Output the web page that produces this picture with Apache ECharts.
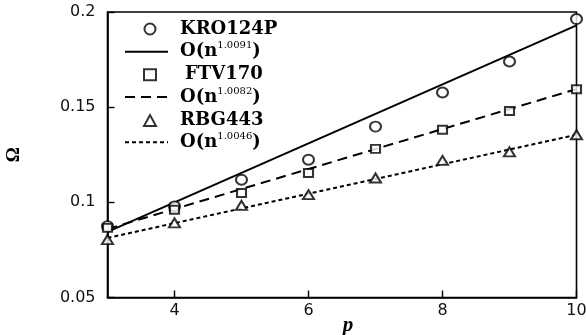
<!DOCTYPE html>
<html><head><meta charset="utf-8">
<script src="https://cdn.jsdelivr.net/npm/echarts@6/dist/echarts.min.js"></script>
<style>html,body{margin:0;padding:0;background:#fff}#c{width:586px;height:335px}</style>
</head><body><div id="c"></div>
<script>
const xValues = [3, 4, 5, 6, 7, 8, 9, 10];
const kro124p = [0.0875, 0.0979, 0.1119, 0.1224, 0.1398, 0.1577, 0.1740, 0.1963];
const ftv170  = [0.0866, 0.0961, 0.1049, 0.1154, 0.1281, 0.1381, 0.1480, 0.1594];
const rbg443  = [0.0804, 0.0892, 0.0984, 0.1040, 0.1128, 0.1220, 0.1265, 0.1355];
const fitX = [3, 10];
const fitKro = [0.0845, 0.1930];
const fitFtv = [0.0860, 0.1595];
const fitRbg = [0.0813, 0.1355];
const exps = ['1.0091', '1.0082', '1.0046'];
const xTicks = [4, 6, 8, 10];

const pairs = (xs, ys) => xs.map((x, i) => [x, ys[i]]);
const fitNames = exps.map(e => 'O(n^' + e + ')');

const chart = echarts.init(document.getElementById('c'), null, {renderer: 'canvas'});
const scatter = (name, data, symbol, size) => ({
  name, type: 'scatter', data, symbol, symbolSize: size, clip: false, symbolKeepAspect: true,
  itemStyle: {color: '#000', borderWidth: 1.6}, z: 3
});
const fit = (name, data, type) => ({
  name, type: 'line', data, symbol: 'none', showSymbol: false,
  itemStyle: {color: '#000'},
  lineStyle: {color: '#000', width: 2, type}, z: 2
});
const hidden = {color: 'rgba(0,0,0,0)', borderColor: 'rgba(0,0,0,0)', borderWidth: 0};
const rich = {
  t: {fontFamily: 'DejaVu Serif', fontSize: 18, fontWeight: 'bold', lineHeight: 22, color: '#000'},
  f: {fontFamily: 'DejaVu Serif', fontSize: 18, fontWeight: 'bold', lineHeight: 22, color: '#000', padding: [0, 0, 0, 5]},
  s: {fontFamily: 'DejaVu Serif', fontSize: 10, lineHeight: 9, verticalAlign: 'top', color: '#000'}
};
const fmt = function (n) {
  if (n.indexOf('^') >= 0) {
    const e = n.slice(n.indexOf('^') + 1, n.length - 1);
    return '{t|O(n}{s|' + e + '}{t|)}';
  }
  if (n === 'FTV170') return '{f|' + n + '}';
  return '{t|' + n + '}';
};
chart.setOption({
  animation: false,
  grid: {left: 107.5, right: 9.5, top: 12, bottom: 37.5, containLabel: false, outerBoundsMode: 'none',
         show: true, borderColor: '#000', borderWidth: 1.6, backgroundColor: 'transparent'},
  legend: [
    {
      orient: 'vertical', left: 138, top: 15, itemWidth: 12, itemHeight: 11, itemGap: 27.8,
      data: ['KRO124P', 'FTV170', 'RBG443'],
      formatter: fmt,
      textStyle: {color: '#000', padding: [0, 0, 0, 19], rich}
    },
    {
      orient: 'vertical', left: 119, top: 35.7, itemWidth: 43, itemHeight: 11, itemGap: 25.3,
      data: fitNames.map(n => ({name: n, itemStyle: hidden})),
      formatter: fmt,
      textStyle: {color: '#000', padding: [0, 0, 0, 7], rich}
    }
  ],
  xAxis: {
    type: 'value', min: 3, max: 10,
    name: 'p', nameLocation: 'middle', nameGap: 18, nameMoveOverlap: false,
    nameTextStyle: {fontFamily: 'Liberation Serif', fontStyle: 'italic', fontWeight: 'bold', fontSize: 21, color: '#000', padding: [0, 0, 0, 12]},
    axisLine: {show: true, onZero: false, lineStyle: {color: '#000', width: 1.6}},
    axisTick: {show: true, inside: true, length: 7, customValues: xTicks, lineStyle: {color: '#000', width: 1.4}},
    axisLabel: {customValues: xTicks, margin: 5, fontFamily: 'DejaVu Sans', fontSize: 16, color: '#111'},
    splitLine: {show: false}
  },
  yAxis: {
    type: 'value', min: 0.05, max: 0.2, interval: 0.05,
    name: 'Ω', nameLocation: 'middle', nameGap: 84, nameRotate: 90,
    nameTextStyle: {fontFamily: 'Liberation Serif', fontWeight: 'bold', fontSize: 19, color: '#000'},
    axisLine: {show: true, onZero: false, lineStyle: {color: '#000', width: 1.6}},
    axisTick: {show: true, inside: true, length: 7, lineStyle: {color: '#000', width: 1.4}},
    axisLabel: {margin: 12, fontFamily: 'DejaVu Sans', fontSize: 16, color: '#111'},
    splitLine: {show: false}
  },
  series: [
    scatter('KRO124P', pairs(xValues, kro124p), 'emptyCircle', [11, 10]),
    fit(fitNames[0], pairs(fitX, fitKro), 'solid'),
    scatter('FTV170', pairs(xValues, ftv170), 'emptyRect', [9, 8]),
    fit(fitNames[1], pairs(fitX, fitFtv), [10, 6]),
    scatter('RBG443', pairs(xValues, rbg443), 'emptyTriangle', [11, 9]),
    fit(fitNames[2], pairs(fitX, fitRbg), [4, 3])
  ]
});
</script></body></html>
